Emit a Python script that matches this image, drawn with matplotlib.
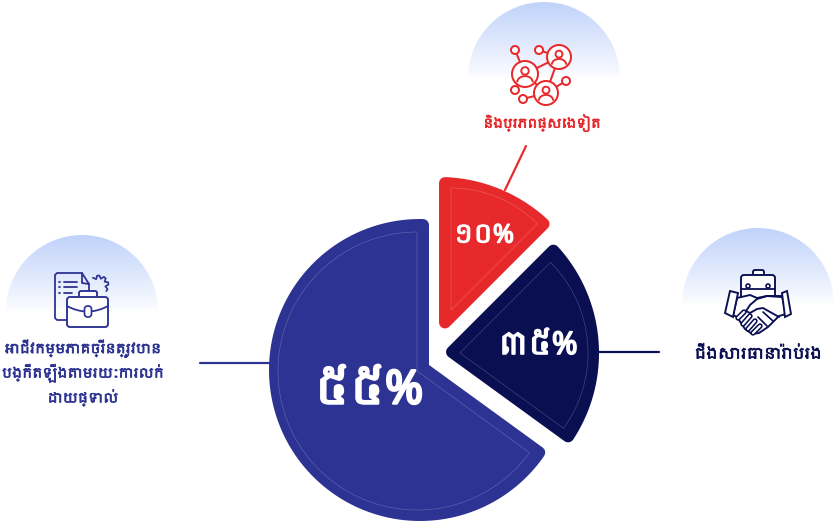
"""Khmer pie infographic with three exploded sectors and icon badges."""
import numpy as np
import matplotlib
matplotlib.use("Agg")
import matplotlib.pyplot as plt
import matplotlib.patheffects as pe
from matplotlib import font_manager as fm
from matplotlib.patches import Circle, FancyBboxPatch, Polygon, Arc

# Sweep of each sector as drawn (degrees)
sector_names = ["other", "agents", "direct"]
sector_sweeps = [45, 81, 234]
sector_labels = ["១០%", "៣៥%", "៥៥%"]
caption_other = ["និងប្រភពផ្សេងទៀត"]
caption_agents = ["ជើងសារធានារ៉ាប់រង"]
caption_direct = ["អាជីវកម្មភាគច្រើនត្រូវបាន", "បង្កើតឡើងតាមរយៈការលក់", "ដោយផ្ទាល់"]

RED = "#e8292c"
NAVY = "#0a0f52"
BLUE = "#2d3392"

khmer = [f.name for f in fm.fontManager.ttflist if "khmer" in f.name.lower()]
plt.rcParams["font.family"] = khmer[:1] + ["Noto Sans", "DejaVu Sans"]

fig = plt.figure(figsize=(8.33, 5.21), dpi=100)
ax = fig.add_axes([0, 0, 1, 1])
ax.set_xlim(0, 833)
ax.set_ylim(521, 0)
ax.axis("off")


def px(n):
    return n * 72 / 100


def ray_hit(apex, angle, centre, r):
    d = np.array([np.cos(np.radians(angle)), -np.sin(np.radians(angle))])
    f = np.array(apex) - np.array(centre)
    b = f @ d
    t = -b + np.sqrt(b * b - f @ f + r * r)
    return np.array(apex) + t * d


def sector_path(apex, centre, r, a_start, sweep):
    """Apex, then along a_start to the circle, round it by sweep, back to apex."""
    p0 = ray_hit(apex, a_start, centre, r)
    p1 = ray_hit(apex, a_start + sweep, centre, r)
    t0 = np.degrees(np.arctan2(-(p0[1] - centre[1]), p0[0] - centre[0]))
    t1 = np.degrees(np.arctan2(-(p1[1] - centre[1]), p1[0] - centre[0]))
    if sweep < 0:
        t1 = t0 - ((t0 - t1) % 360)
    else:
        t1 = t0 + ((t1 - t0) % 360)
    tt = np.radians(np.linspace(t0, t1, 120))
    xs = centre[0] + r * np.cos(tt)
    ys = centre[1] - r * np.sin(tt)
    return np.vstack([[apex], np.column_stack([xs, ys])])


def dome(cx, cy, r):
    grad = np.ones((64, 2, 4))
    grad[:, :, 0] = 0.76
    grad[:, :, 1] = 0.83
    grad[:, :, 2] = 0.985
    grad[:, :, 3] = np.linspace(1, 0, 64)[:, None] ** 0.9
    im = ax.imshow(grad, extent=(cx - r, cx + r, cy + 2, cy - r), aspect="auto", zorder=1)
    im.set_clip_path(Circle((cx, cy), r, transform=ax.transData))


def stroke(xs, ys, color, lw=1.8, z=5):
    ax.plot(xs, ys, color=color, lw=px(lw), solid_capstyle="round", solid_joinstyle="round", zorder=z)


def ring(x, y, r, color, lw=2.0, fill="white"):
    ax.add_patch(Circle((x, y), r, fc=fill, ec=color, lw=px(lw), zorder=6))


def box(x0, y0, x1, y1, color, lw=1.9, rad=2, z=6):
    ax.add_patch(FancyBboxPatch((x0, y0), x1 - x0, y1 - y0, boxstyle=f"round,pad=0,rounding_size={rad}",
                                fc="white", ec=color, lw=px(lw), zorder=z))


def person(x, y, s, color):
    ax.add_patch(Circle((x, y - 0.3 * s), 0.36 * s, fc="none", ec=color, lw=px(1.9), zorder=7))
    ax.add_patch(Arc((x, y + 0.8 * s), 1.5 * s, 1.2 * s, theta1=180, theta2=360, ec=color, lw=px(1.9), zorder=7))


def bold_text(x, y, s, color, fs, weight=0.55):
    ax.text(x, y, s, color=color, fontsize=fs, ha="center", va="center", zorder=8,
            path_effects=[pe.withStroke(linewidth=weight, foreground=color)])


# Badges behind the icons
dome(82, 311, 76)
dome(544, 78, 76)
dome(758, 304, 76)

# Connectors
stroke([200, 270], [363, 363], BLUE, 2.2, 2)
stroke([598, 659], [352, 352], NAVY, 2.2, 2)
stroke([526, 505], [146, 190], RED, 2.2, 2)

# Sectors: stroked with a wide round pen to get the soft corners
body_apex = [(445, 322.5), (452, 352), (423, 368)]
body_centre = [(439, 337), (441, 353), (420, 370)]
body_radius = [154, 152, 145]
inner_apex = [(451, 310), (460, 353), (417, 371)]
inner_radius = [122, 128, 139]
sector_colors = [RED, NAVY, BLUE]
start = 90
for i, sweep in enumerate(sector_sweeps):
    a = start if i < 2 else 90
    s = -sweep if i < 2 else sweep
    ax.add_patch(Polygon(sector_path(body_apex[i], body_centre[i], body_radius[i], a, s), closed=True,
                         fc=sector_colors[i], ec=sector_colors[i], lw=px(12), joinstyle="round", zorder=3))
    ax.add_patch(Polygon(sector_path(inner_apex[i], inner_apex[i], inner_radius[i], a, s), closed=True,
                         fc="none", ec="white", alpha=0.25, lw=px(0.6), zorder=4))
    start -= sweep

label_pos = [(484, 236, 18.5), (538, 346, 22.5), (369, 391, 33.5)]
label_weight = [1.0, 1.2, 1.8]
for lab, (x, y, fs), w in zip(sector_labels, label_pos, label_weight):
    bold_text(x, y, lab, "white", fs, w)

# Captions
for j, line in enumerate(caption_direct):
    bold_text(83, 349 + j * 24.5, line, BLUE, 9.6)
bold_text(542, 123, caption_other[0], RED, 9.3)
bold_text(758, 355, caption_agents[0], NAVY, 11)

# Left icon: document, gear, briefcase
stroke([67, 57, 55, 55, 57, 82, 89, 89], [320, 320, 318, 275, 273, 273, 284, 296], BLUE)
stroke([82, 82, 89], [273, 283, 284], BLUE)
for yy in (282, 287, 293):
    stroke([64, 77 if yy < 290 else 72], [yy, yy], BLUE)
    stroke([59, 60], [yy, yy], BLUE)
gear_t = np.radians(np.linspace(-40, 130, 13))
gear_r = 9.5 - 3 * (np.arange(13) % 3 == 2)
stroke(99 + gear_r * np.cos(gear_t), 285 - gear_r * np.sin(gear_t), BLUE, 1.7)
box(79, 291, 97, 300, BLUE)
box(67, 297, 108, 327, BLUE, rad=3)
t = np.linspace(0, 1, 30)
stroke(67 + 41 * t, 306 + 22 * t * (1 - t), BLUE, z=7)
box(84.5, 306, 91.5, 317, BLUE, lw=1.7, rad=3, z=8)

# Top icon: people network
edges_x = [(515, 525), (539, 559), (525, 559), (559, 546), (566, 546), (515, 525), (523, 546), (525, 546)]
edges_y = [(50, 74), (50, 57), (74, 57), (57, 93), (81, 93), (90, 74), (99, 93), (74, 93)]
for ex, ey in zip(edges_x, edges_y):
    stroke(ex, ey, RED, 2.0, 5)
for (x, y) in [(515, 50), (539, 50), (566, 81), (515, 90), (523, 99)]:
    ring(x, y, 4, RED)
for (x, y, r) in [(559, 57, 12), (525, 74, 13), (546, 93, 12)]:
    ring(x, y, r, RED)
    person(x, y, r * 0.8, RED)

# Right icon: briefcase and handshake
box(753, 270, 764, 279, NAVY)
box(741, 275, 775, 302, NAVY, rad=3)
stroke([741, 775], [289, 289], NAVY, 1.8, 7)
ring(748, 286, 2, NAVY, 1.6)
ring(768, 286, 2, NAVY, 1.6)
hand = [(737, 298), (750, 295), (757, 298), (767, 296), (782, 296), (786, 314), (779, 316), (768, 327),
        (759, 333), (752, 334), (745, 329), (737, 317), (733, 315)]
ax.add_patch(Polygon(hand, closed=True, fc="white", ec=NAVY, lw=px(1.9), joinstyle="round", zorder=6))
ax.add_patch(Polygon([(730, 291), (738, 293), (733, 317), (725, 313)], closed=True, fc="white", ec=NAVY, lw=px(1.9), zorder=7))
ax.add_patch(Polygon([(782, 293), (787, 291), (791, 314), (785, 317)], closed=True, fc="white", ec=NAVY, lw=px(1.9), zorder=7))
stroke([781, 767, 757, 750, 746, 750, 757, 763, 779], [297, 296, 299, 305, 311, 313, 309, 308, 317], NAVY, 1.9, 8)
for (x0, y0, x1, y1) in [(738, 318, 744, 312), (743, 324, 750, 316), (748, 329, 755, 321), (753, 333, 760, 326)]:
    stroke([x0, x1], [y0, y1], NAVY, 5.4, 8)
    stroke([x0, x1], [y0, y1], "white", 2.2, 9)
for (x0, y0, x1, y1) in [(763, 312, 773, 321), (758, 317, 767, 326)]:
    stroke([x0, x1], [y0, y1], NAVY, 1.7, 8)

fig.savefig("out.png", dpi=100)
